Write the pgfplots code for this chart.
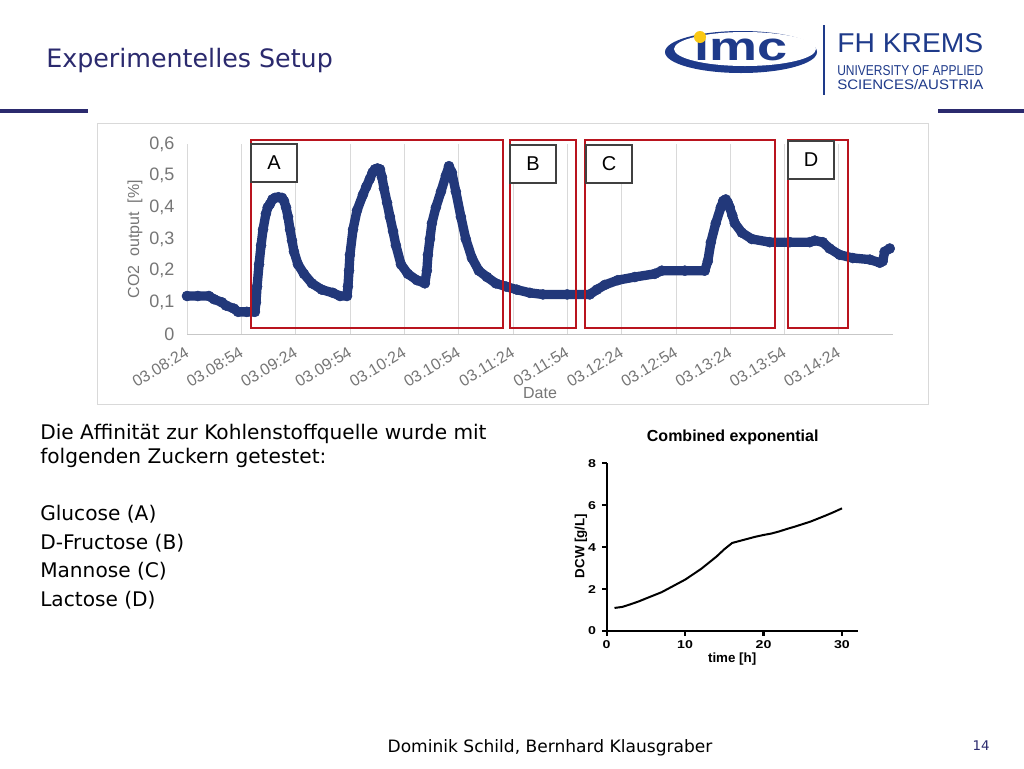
\documentclass[border=0pt]{standalone}
\usepackage{fontspec}
\setmainfont{DejaVu Sans}
\newfontfamily\arial{Liberation Sans}
\usepackage{graphicx}
\usepackage{pgfplots}
\pgfplotsset{compat=1.18}

\definecolor{titleblue}{RGB}{43,42,110}
\definecolor{logoblue}{RGB}{30,58,138}
\definecolor{dotblue}{RGB}{34,56,122}
\definecolor{boxred}{RGB}{185,20,30}
\definecolor{ticgray}{RGB}{118,118,118}
\definecolor{gridgray}{RGB}{217,217,217}
\definecolor{logoyellow}{RGB}{250,200,20}

\begin{document}
\begin{tikzpicture}[x=0.75pt,y=-0.75pt]
\useasboundingbox (0,0) rectangle (1024,768);
\fill[white] (0,0) rectangle (1024,768);

% slide title and rules
\node[anchor=base west, inner sep=0, text=titleblue, font=\fontsize{19}{22}\selectfont] at (46,67) {Experimentelles Setup};
\draw[titleblue, line width=3pt] (0,111) -- (88,111);
\draw[titleblue, line width=3pt] (938,111) -- (1024,111);

% logo
\fill[logoblue] (741,52) ellipse [x radius=76, y radius=21];
\fill[white] (745,49) ellipse [x radius=71, y radius=17];
\node[text=logoblue, font=\arial\bfseries\fontsize{30}{32}\selectfont, xscale=1.35, inner sep=0] at (741,50) {\i mc};
\fill[logoyellow] (700,37) circle [radius=6];
\draw[logoblue, line width=1.5pt] (824,25) -- (824,95);
\node[anchor=base west, inner sep=0, text=logoblue] at (837,52) {\resizebox{109.5pt}{14.25pt}{\arial FH KREMS}};
\node[anchor=base west, inner sep=0, text=logoblue] at (837,75) {\resizebox{109.5pt}{7.5pt}{\arial UNIVERSITY OF APPLIED}};
\node[anchor=base west, inner sep=0, text=logoblue] at (837,89) {\resizebox{109.5pt}{7.5pt}{\arial SCIENCES/AUSTRIA}};

% excel chart frame
\draw[gridgray] (97,123) rectangle (928,404);

\begin{axis}[
  at={(140.25pt,-250.5pt)}, anchor=south west,
  scale only axis, width=529.5pt, height=142.5pt,
  xmin=0, xmax=390, ymin=0, ymax=0.6,
  enlargelimits=false, clip=false,
  axis x line*=bottom, axis y line*=left,
  x axis line style={draw=gridgray!80!gray, -},
  y axis line style={draw=none},
  major tick length=0pt,
  xmajorgrids, grid style={gridgray},
  xtick={0,30,...,360},
  xticklabels={03.08:24,03.08:54,03.09:24,03.09:54,03.10:24,03.10:54,03.11:24,03.11:54,03.12:24,03.12:54,03.13:24,03.13:54,03.14:24},
  ytick={0,0.1,0.2,0.3,0.4,0.5,0.6},
  /pgf/number format/assume math mode=true,
  /pgf/number format/use comma,
  /pgf/number format/fixed,
  /pgf/number format/precision=1,
  ticklabel style={text=ticgray},
  xticklabel style={font=\arial\fontsize{12}{14}\selectfont, rotate=31, anchor=east, yshift=-11pt, xshift=-3pt},
  yticklabel style={font=\arial\fontsize{13.5}{15}\selectfont, xshift=-6pt},
  xlabel={Date}, ylabel={CO2~ output~ [\%]},
  every axis x label/.style={at={(axis description cs:0.5,-0.31)}, anchor=center,
    text=ticgray, font=\arial\fontsize{12}{14}\selectfont},
  every axis y label/.style={at={(axis description cs:-0.0737,0.5)}, anchor=center, rotate=90,
    text=ticgray, font=\arial\fontsize{12}{14}\selectfont},
]
\addplot[dotblue, line width=7pt, line join=round, line cap=round,
  mark=*, mark size=3.8pt, mark options={fill=dotblue, draw=dotblue, line width=0.3pt}] coordinates {
(0,0.12) (6,0.12) (12.1,0.12) (14.9,0.11) (19.3,0.10) (21.5,0.09) (26,0.08)
(28.2,0.07) (33,0.07) (37.5,0.07) (38.1,0.10) (38.7,0.15) (39.8,0.22) (40.9,0.28)
(42,0.33) (43.6,0.38) (44.6,0.40) (45.8,0.41) (47.2,0.425) (48.6,0.43) (50.5,0.432) (52.5,0.43)
(53.6,0.42) (54.7,0.40) (55.8,0.37) (56.9,0.33) (58,0.295)
(59.1,0.26) (61.3,0.22) (64.6,0.19) (69,0.16) (74.5,0.14) (80.6,0.13) (84.5,0.12)
(88.4,0.12) (88.9,0.15) (89.5,0.20) (90,0.25) (91.7,0.33) (93.9,0.39) (97.2,0.44)
(99,0.465) (101,0.49) (102.5,0.51) (103.8,0.52) (105.2,0.523) (106.6,0.52) (107.7,0.495) (108.8,0.46) (110.5,0.415) (112.1,0.37) (113.8,0.325) (115.4,0.28)
(118.2,0.22) (122,0.19) (127,0.17) (131.4,0.16) (132.5,0.20) (133.1,0.25)
(134.2,0.30) (135.3,0.35) (137.5,0.40) (140.3,0.45) (143,0.50) (144.7,0.53)
(146.3,0.51) (148.5,0.45) (151.3,0.37) (154,0.30) (157.4,0.24) (161.2,0.20)
(165.7,0.18) (170.6,0.16) (176.2,0.15) (182.2,0.14) (189.4,0.13) (196.6,0.125)
(210,0.125) (222.5,0.125) (226.4,0.14) (230.8,0.155) (238,0.17) (247.4,0.18)
(258.4,0.19) (262.3,0.20) (275,0.20) (286,0.20) (287.7,0.23) (289.4,0.29)
(292.1,0.35) (294.9,0.40) (296.2,0.42) (297.6,0.425) (298.7,0.415) (299.8,0.40) (301.2,0.375) (302.6,0.35) (306.5,0.32)
(312,0.30) (321.9,0.29) (333,0.29) (344,0.29) (346.8,0.295) (351.2,0.29)
(355,0.27) (360.6,0.25) (367.8,0.24) (377.2,0.235) (382.7,0.225) (384.3,0.23)
(385.4,0.26) (388.2,0.27)
};
\end{axis}

% phase boxes
\draw[boxred, line width=1.6pt] (251,140) rectangle (503,328);
\draw[boxred, line width=1.6pt] (510,140) rectangle (576,328);
\draw[boxred, line width=1.6pt] (585,140) rectangle (775,328);
\draw[boxred, line width=1.6pt] (788,140) rectangle (848,328);
\foreach \xa/\ya/\lab in {251/144/A, 510/145/B, 586/145/C, 788/141/D} {
  \draw[black!75, fill=white, line width=0.8pt] (\xa,\ya) rectangle ++(46,38);
  \node[font=\arial\fontsize{15}{17}\selectfont] at (\xa+23,\ya+19) {\lab};
}

% text block
\begin{scope}[every node/.style={anchor=base west, inner sep=0, font=\fontsize{15.1}{18}\selectfont}]
\node at (40,439) {Die Affinität zur Kohlenstoffquelle wurde mit};
\node at (40,463) {folgenden Zuckern getestet:};
\node at (40,520) {Glucose (A)};
\node at (40,549) {D-Fructose (B)};
\node at (40,577) {Mannose (C)};
\node at (40,606) {Lactose (D)};
\end{scope}

% growth chart
\node[font=\arial\bfseries\fontsize{12}{14}\selectfont] at (732.7,437) {Combined exponential};
\begin{axis}[
  at={(455pt,-473.25pt)}, anchor=south west,
  scale only axis, width=188.25pt, height=125.8pt,
  xmin=0, xmax=32, ymin=0, ymax=8,
  axis lines=left, axis line style={-, line width=1.6pt},
  tick align=outside, major tick length=3.5pt,
  tick style={black, line width=1.6pt},
  xtick={0,10,20,30}, ytick={0,2,4,6,8},
  /pgf/number format/assume math mode=true,
  ticklabel style={font=\arial\bfseries\fontsize{8.5}{10}\selectfont, xscale=1.25},
  xlabel={time [h]}, ylabel={DCW [g/L]},
  every axis x label/.style={at={(axis description cs:0.5,-0.167)}, anchor=center,
    font=\arial\bfseries\fontsize{10}{12}\selectfont},
  every axis y label/.style={at={(axis description cs:-0.102,0.507)}, anchor=center, rotate=90,
    font=\arial\bfseries\fontsize{10}{12}\selectfont},
]
\addplot[black, line width=1.5pt] coordinates {
(1,1.1) (2,1.15) (3,1.27) (4,1.4) (5,1.55) (6,1.7) (7,1.85) (8,2.05) (9,2.25)
(10,2.45) (11,2.7) (12,2.95) (13,3.25) (14,3.55) (15,3.9) (16,4.2) (17,4.3)
(18,4.4) (19,4.5) (20,4.58) (21,4.65) (22,4.75) (23,4.87) (24,4.98) (25,5.1)
(26,5.22) (27,5.37) (28,5.52) (29,5.68) (30,5.85)
};
\end{axis}

% footer
\node[font=\fontsize{12.8}{15}\selectfont] at (550,748) {Dominik Schild, Bernhard Klausgraber};
\node[font=\fontsize{10}{12}\selectfont, text=titleblue] at (981,746) {14};
\end{tikzpicture}
\end{document}
